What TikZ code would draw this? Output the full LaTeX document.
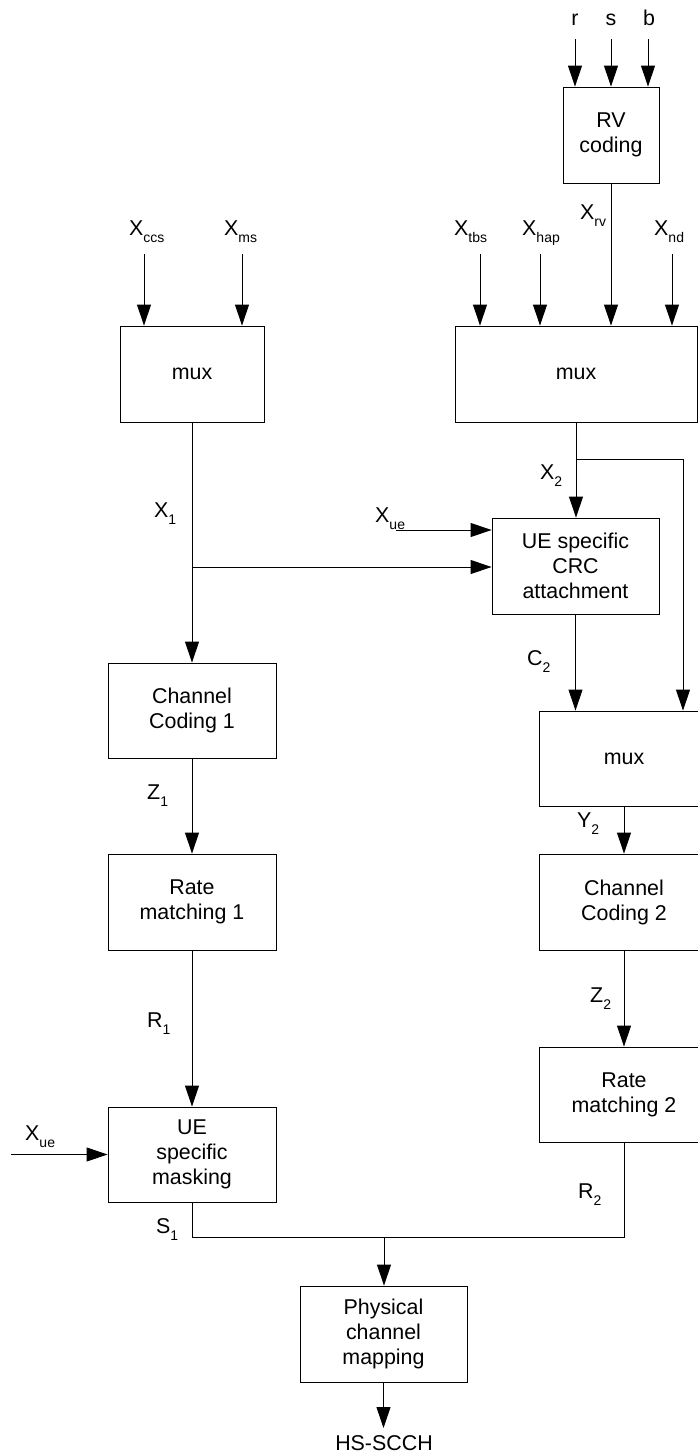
\documentclass[tikz,border=0pt]{standalone}
\usepackage{fontspec}
\setmainfont{Liberation Sans}
\usetikzlibrary{arrows.meta}
\newcommand{\sbs}[2]{#1\raisebox{-7pt}{\fontsize{14}{14}\selectfont #2}}
\begin{document}
\begin{tikzpicture}[x=1pt,y=-1pt,
  every node/.style={font=\fontsize{21.4}{25}\selectfont},
  blk/.style={draw, line width=0.9pt, inner sep=0pt, align=center},
  lbl/.style={anchor=base west, inner sep=0pt},
  clbl/.style={anchor=base, inner sep=0pt},
  conn/.style={line width=0.9pt},
  arr/.style={conn, -{Triangle[length=21pt,width=14pt]}}]
\useasboundingbox (0,0) rectangle (698,1456);

% blocks
\node[blk, minimum width=96pt, minimum height=96pt] (rv) at (611,135) {RV\\coding};
\node[blk, minimum width=144pt, minimum height=96pt] (muxL) at (192,374) {mux};
\node[blk, minimum width=242pt, minimum height=96pt] (muxR) at (576,374) {mux};
\node[blk, minimum width=167pt, minimum height=96pt] (crc) at (575.5,566) {UE specific\\CRC\\attachment};
\node[blk, minimum width=169pt, minimum height=95pt] (mux2) at (624,758.5) {mux};
\node[blk, minimum width=169pt, minimum height=96pt] (cc2) at (624,902) {Channel\\Coding 2};
\node[blk, minimum width=169pt, minimum height=95pt] (rm2) at (624,1094.5) {Rate\\matching 2};
\node[blk, minimum width=168pt, minimum height=95pt] (cc1) at (192,710.5) {Channel\\Coding 1};
\node[blk, minimum width=168pt, minimum height=96pt] (rm1) at (192,902) {Rate\\matching 1};
\node[blk, minimum width=168pt, minimum height=95pt] (mask) at (192,1154.5) {UE\\specific\\masking};
\node[blk, minimum width=167pt, minimum height=96pt] (pcm) at (383.5,1334) {Physical\\channel\\mapping};

% labels
\node[clbl] (lr) at (575,25) {r};
\node[clbl] (ls) at (611,25) {s};
\node[clbl] (lb) at (649,25) {b};
\node[lbl] (lccs) at (129,235) {\sbs{X}{ccs}};
\node[lbl] (lms) at (224,235) {\sbs{X}{ms}};
\node[lbl] (ltbs) at (454,235) {\sbs{X}{tbs}};
\node[lbl] (lhap) at (522,235) {\sbs{X}{hap}};
\node[lbl] (lrv) at (580,219) {\sbs{X}{rv}};
\node[lbl] (lnd) at (654,235) {\sbs{X}{nd}};
\node[lbl] (lx1) at (154,517) {\sbs{X}{1}};
\node[lbl] (lue1) at (375,522) {\sbs{X}{ue}};
\node[lbl] (lx2) at (540,479) {\sbs{X}{2}};
\node[lbl] (lc2) at (527,665) {\sbs{C}{2}};
\node[lbl] (ly2) at (577,827) {\sbs{Y}{2}};
\node[lbl] (lz2) at (590,1002) {\sbs{Z}{2}};
\node[lbl] (lz1) at (147,799) {\sbs{Z}{1}};
\node[lbl] (lr1) at (147,1027) {\sbs{R}{1}};
\node[lbl] (lue2) at (25,1140) {\sbs{X}{ue}};
\node[lbl] (ls1) at (156,1233) {\sbs{S}{1}};
\node[lbl] (lr2) at (578,1198) {\sbs{R}{2}};
\node[clbl] (hs) at (384,1450) {HS-SCCH};

% input points
\coordinate (ir) at (575,39);
\coordinate (is) at (611,39);
\coordinate (ib) at (648,39);
\coordinate (iccs) at (144,254);
\coordinate (ims) at (242,254);
\coordinate (itbs) at (480,254);
\coordinate (ihap) at (540,254);
\coordinate (ind) at (672,254);
\coordinate (j1) at (192,567);
\coordinate (xue) at (396,530);
\coordinate (j2) at (576,459);
\coordinate (j2r) at (683,459);
\coordinate (bus) at (384,1237);
\coordinate (xue2) at (11,1154.5);
\coordinate (hsT) at (383.5,1428);

% connectors
\draw[arr] (ir) -- (ir |- rv.north);
\draw[arr] (is) -- (is |- rv.north);
\draw[arr] (ib) -- (ib |- rv.north);
\draw[arr] (iccs) -- (iccs |- muxL.north);
\draw[arr] (ims) -- (ims |- muxL.north);
\draw[arr] (itbs) -- (itbs |- muxR.north);
\draw[arr] (ihap) -- (ihap |- muxR.north);
\draw[arr] (ind) -- (ind |- muxR.north);
\draw[arr] (rv.south) -- (rv.south |- muxR.north);
\draw[arr] (muxL.south) -- (cc1.north);
\draw[arr] (j1) -- (j1 -| crc.west);
\draw[arr] (xue) -- (xue -| crc.west);
\draw[arr] (muxR.south) -- (muxR.south |- crc.north);
\draw[arr] (j2) -- (j2r) -- (j2r |- mux2.north);
\draw[arr] (crc.south) -- (crc.south |- mux2.north);
\draw[arr] (mux2.south) -- (cc2.north);
\draw[arr] (cc2.south) -- (rm2.north);
\draw[arr] (cc1.south) -- (rm1.north);
\draw[arr] (rm1.south) -- (mask.north);
\draw[arr] (xue2) -- (mask.west);
\draw[conn] (rm2.south) |- (bus) -| (mask.south);
\draw[arr] (bus) -- (bus |- pcm.north);
\draw[arr] (pcm.south) -- (hsT);
\end{tikzpicture}
\end{document}
